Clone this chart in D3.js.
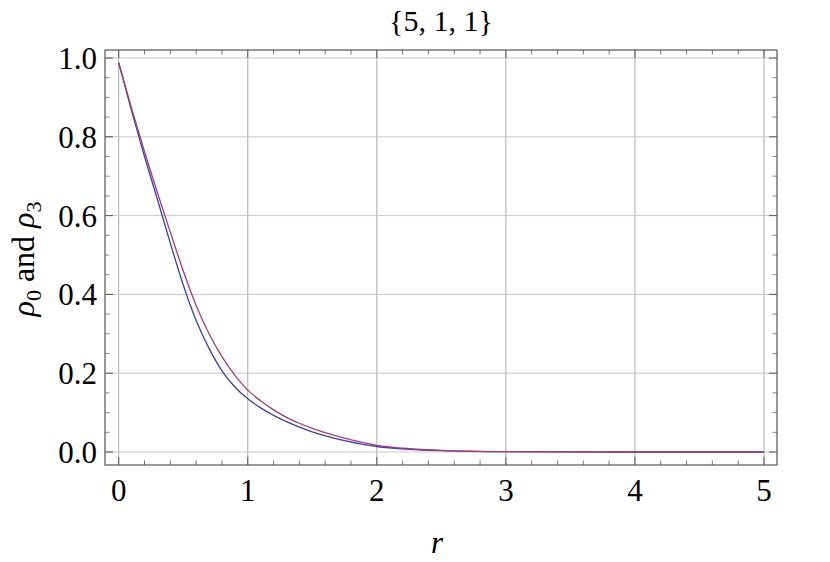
<!DOCTYPE html>
<html>
<head>
<meta charset="utf-8">
<script src="https://cdn.jsdelivr.net/npm/d3@7"></script>
<style>
  body { margin: 0; background: #fff; }
</style>
</head>
<body>
<svg id="chart" width="830" height="562" font-family="'Liberation Serif', 'Times New Roman', Times, serif"></svg>
<script>
// data
const title = "{5, 1, 1}";
const rValues = [0, 0.1, 0.2, 0.3, 0.4, 0.5, 0.6, 0.7, 0.8, 0.9, 1.0, 1.1, 1.2, 1.3, 1.4, 1.5, 1.6, 1.75, 2.0, 2.25, 2.5, 3.0, 3.5, 4.0, 4.5, 5.0];
const rho0 = [0.988, 0.866, 0.750, 0.641, 0.530, 0.424, 0.334, 0.263, 0.206, 0.165, 0.135, 0.112, 0.093, 0.077, 0.063, 0.051, 0.041, 0.029, 0.014, 0.007, 0.0035, 0.0008, 0.0002, 0, 0, 0];
const rho3 = [0.988, 0.872, 0.762, 0.658, 0.558, 0.460, 0.372, 0.300, 0.242, 0.195, 0.157, 0.130, 0.107, 0.088, 0.073, 0.060, 0.049, 0.035, 0.017, 0.0085, 0.0043, 0.001, 0.0003, 0, 0, 0];
const xTicks = [0, 1, 2, 3, 4, 5];
const yTicks = [0, 0.2, 0.4, 0.6, 0.8, 1.0];

const svg = d3.select("#chart");
const frame = { left: 105, right: 777, top: 50, bottom: 465 };

const x = d3.scaleLinear().domain([0, 5]).range([118.7, 764]);
const y = d3.scaleLinear().domain([0, 1]).range([452, 58]);

// grid lines
svg.append("g").selectAll("line").data(xTicks).enter().append("line")
  .attr("x1", d => x(d)).attr("x2", d => x(d))
  .attr("y1", frame.top).attr("y2", frame.bottom)
  .attr("stroke", "#aaa").attr("stroke-width", 1);
svg.append("g").selectAll("line").data(yTicks).enter().append("line")
  .attr("x1", frame.left).attr("x2", frame.right)
  .attr("y1", d => y(d)).attr("y2", d => y(d))
  .attr("stroke", "#c8c8c8").attr("stroke-width", 1);

// ticks on all four sides, pointing in
const xMinor = d3.range(0, 5.01, 0.2).map(v => +v.toFixed(2)).filter(v => !xTicks.includes(v));
const yMinor = d3.range(0, 1.001, 0.05).map(v => +v.toFixed(2)).filter(v => !yTicks.some(t => Math.abs(t - v) < 1e-6));

function xticks(vals, len, color) {
  const g = svg.append("g").attr("stroke", color).attr("stroke-width", 1);
  vals.forEach(v => {
    g.append("line").attr("x1", x(v)).attr("x2", x(v)).attr("y1", frame.bottom).attr("y2", frame.bottom - len);
    g.append("line").attr("x1", x(v)).attr("x2", x(v)).attr("y1", frame.top).attr("y2", frame.top + len);
  });
}
xticks(xTicks, 8, "#555");
xticks(xMinor, 4.5, "#777");
function yticks(vals, len, color) {
  const g = svg.append("g").attr("stroke", color).attr("stroke-width", 1);
  vals.forEach(v => {
    g.append("line").attr("y1", y(v)).attr("y2", y(v)).attr("x1", frame.left).attr("x2", frame.left + len);
    g.append("line").attr("y1", y(v)).attr("y2", y(v)).attr("x1", frame.right).attr("x2", frame.right - len);
  });
}
yticks(yTicks, 8, "#555");
yticks(yMinor, 4.5, "#888");

// curves
const line = d3.line().x(d => x(d[0])).y(d => y(d[1])).curve(d3.curveMonotoneX);
svg.append("path").datum(rValues.map((r, i) => [r, rho0[i]]))
  .attr("d", line).attr("fill", "none").attr("stroke", "#3d3da6").attr("stroke-width", 1.3);
svg.append("path").datum(rValues.map((r, i) => [r, rho3[i]]))
  .attr("d", line).attr("fill", "none").attr("stroke", "#a03d78").attr("stroke-width", 1.3);

// frame
svg.append("rect")
  .attr("x", frame.left).attr("y", frame.top)
  .attr("width", frame.right - frame.left).attr("height", frame.bottom - frame.top)
  .attr("fill", "none").attr("stroke", "#555").attr("stroke-width", 1.2);

// tick labels
svg.append("g").selectAll("text").data(xTicks).enter().append("text")
  .attr("x", d => x(d)).attr("y", 501)
  .attr("text-anchor", "middle").attr("font-size", 31)
  .text(d => d3.format("d")(d));
svg.append("g").selectAll("text").data(yTicks).enter().append("text")
  .attr("x", 97).attr("y", d => y(d) + 11)
  .attr("text-anchor", "end").attr("font-size", 31)
  .text(d => d3.format(".1f")(d));

// title and axis labels
svg.append("text").attr("x", 441).attr("y", 31)
  .attr("text-anchor", "middle").attr("font-size", 30).text(title);

svg.append("text").attr("x", 437).attr("y", 553)
  .attr("text-anchor", "middle").attr("font-size", 31).attr("font-style", "italic").text("r");

const yl = svg.append("text")
  .attr("transform", "translate(34,259) rotate(-90)")
  .attr("text-anchor", "middle").attr("font-size", 32);
yl.append("tspan").attr("font-style", "italic").text("ρ");
yl.append("tspan").attr("font-size", 22).attr("dy", 7).text("0");
yl.append("tspan").attr("dy", -7).text(" and ");
yl.append("tspan").attr("font-style", "italic").text("ρ");
yl.append("tspan").attr("font-size", 22).attr("dy", 7).text("3");
</script>
</body>
</html>
